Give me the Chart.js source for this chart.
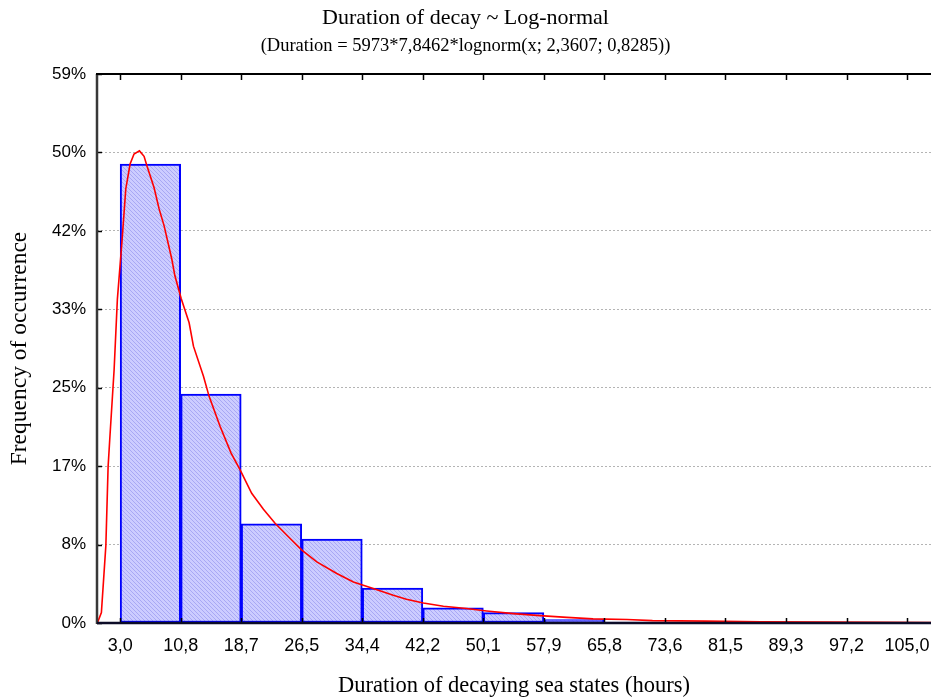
<!DOCTYPE html>
<html>
<head>
<meta charset="utf-8">
<script src="https://cdn.jsdelivr.net/npm/chart.js@4/dist/chart.umd.min.js"></script>
<style>
html,body{margin:0;padding:0;background:#fff;}
canvas{display:block;}
</style>
</head>
<body>
<canvas id="c" width="931" height="698"></canvas>
<script>
// ---- data ----
const totalN = 5973;
const binEdges = [3.0, 10.846, 18.692, 26.538, 34.385, 42.231, 50.077, 57.923, 65.769, 73.615, 81.462, 89.308, 97.154, 105.0];
const tickLabels = ['3,0','10,8','18,7','26,5','34,4','42,2','50,1','57,9','65,8','73,6','81,5','89,3','97,2','105,0'];
const binCounts = [2925, 1460, 633, 535, 222, 96, 66, 22, 6, 3, 1, 1, 1];
const curveX = [0.05, 0.57, 1.15, 1.44, 1.65, 2.22, 2.64, 3.26, 3.73, 4.29, 4.80, 5.50, 6.10, 6.50, 7.40, 8.05, 8.70, 9.70, 10.09, 10.9, 11.94, 12.50, 13.80, 14.53, 15.96, 17.38, 18.55, 20.05, 21.57, 23.08, 24.81, 26.55, 28.49, 31.08, 33.23, 35.8, 38.4, 40.1, 42.3, 44.9, 47.9, 50.5, 54.0, 57.4, 60.9, 64.3, 68.7, 72.0, 79.0, 86.0, 95.0, 102.4, 108.1];
const curveY = [0, 66, 495, 997, 1168, 1616, 2063, 2447, 2767, 2926, 2990, 3010, 2975, 2910, 2775, 2640, 2532, 2319, 2215, 2070, 1914, 1765, 1573, 1445, 1253, 1083, 976, 827, 725, 636, 550, 465, 390, 316, 262, 220, 177, 152, 128, 107, 92, 77, 60, 47, 36, 26, 22, 15, 12, 8, 6, 5, 3];
const yTickStep = 500;
const yMax = 3500;

// ---- build chart data ----
const barData = binCounts.map((c, i) => ({x: (binEdges[i] + binEdges[i + 1]) / 2, y: c}));
const lineData = curveX.map((x, i) => ({x: x, y: curveY[i]}));

// hatch pattern for bars
const pc = document.createElement('canvas');
pc.width = 4; pc.height = 4;
const pctx = pc.getContext('2d');
pctx.fillStyle = '#ccccff';
pctx.fillRect(0, 0, 4, 4);
pctx.fillStyle = '#a8a8f4';
for (let i = 0; i < 4; i++) { pctx.fillRect(i, i, 1, 1); }
const hatch = pctx.createPattern(pc, 'repeat');

const serif = "'Liberation Serif', 'Times New Roman', serif";
const sans = "'Liberation Sans', Arial, sans-serif";

const framePlugin = {
  id: 'frame',
  afterDraw(chart) {
    const {ctx, chartArea: a, scales: {x, y}} = chart;
    ctx.save();
    ctx.strokeStyle = '#000';
    ctx.lineWidth = 1.5;
    x.ticks.forEach(t => {
      const px = Math.round(x.getPixelForValue(t.value)) + 0.5;
      ctx.beginPath(); ctx.moveTo(px, a.top); ctx.lineTo(px, a.top + 6); ctx.stroke();
      ctx.beginPath(); ctx.moveTo(px, a.bottom); ctx.lineTo(px, a.bottom - 5); ctx.stroke();
    });
    y.ticks.forEach(t => {
      const py = Math.round(y.getPixelForValue(t.value)) + 0.5;
      ctx.beginPath(); ctx.moveTo(a.left, py); ctx.lineTo(a.left + 5, py); ctx.stroke();
    });
    ctx.lineWidth = 2.5;
    ctx.strokeStyle = '#383838';
    ctx.beginPath(); ctx.moveTo(a.left, a.top); ctx.lineTo(a.left, a.bottom + 1); ctx.stroke();
    ctx.strokeStyle = '#0c0c28';
    ctx.beginPath(); ctx.moveTo(a.left, a.bottom); ctx.lineTo(a.right, a.bottom); ctx.stroke();
    ctx.lineWidth = 2;
    ctx.strokeStyle = '#000';
    ctx.beginPath(); ctx.moveTo(a.left - 1, a.top); ctx.lineTo(a.right, a.top); ctx.stroke();
    ctx.restore();
  }
};

new Chart(document.getElementById('c'), {
  type: 'bar',
  data: {
    datasets: [
      {
        type: 'line',
        data: lineData,
        borderColor: '#ff0000',
        borderWidth: 1.6,
        pointRadius: 0,
        tension: 0,
        fill: false,
        order: 0
      },
      {
        type: 'bar',
        data: barData,
        backgroundColor: hatch,
        borderColor: '#0000ff',
        borderWidth: 2,
        borderSkipped: false,
        barPercentage: 1.0,
        categoryPercentage: 1.0,
        order: 1
      }
    ]
  },
  options: {
    responsive: false,
    animation: false,
    devicePixelRatio: 1,
    layout: {padding: 0},
    plugins: {
      legend: {display: false},
      tooltip: {enabled: false},
      title: {
        display: true,
        text: 'Duration of decay ~ Log-normal',
        color: '#000',
        font: {family: serif, size: 22, weight: 'normal'},
        padding: {top: 4.8, bottom: 4}
      },
      subtitle: {
        display: true,
        text: '(Duration = 5973*7,8462*lognorm(x; 2,3607; 0,8285))',
        color: '#000',
        font: {family: serif, size: 18.5, weight: 'normal'},
        padding: {top: 0, bottom: 16.6}
      }
    },
    scales: {
      x: {
        type: 'linear',
        offset: false,
        min: 0,
        max: 108.1,
        afterBuildTicks: s => { s.ticks = binEdges.map(v => ({value: v})); },
        afterFit: s => { s.height = 75; s.paddingLeft = 0; s.paddingRight = 0; },
        ticks: {
          autoSkip: false,
          maxRotation: 0,
          color: '#000',
          font: {family: sans, size: 18},
          padding: 12,
          callback: (v, i) => tickLabels[i]
        },
        grid: {display: false, drawTicks: false, offset: false},
        border: {display: false},
        title: {
          display: true,
          text: 'Duration of decaying sea states (hours)',
          color: '#000',
          font: {family: serif, size: 22.5, weight: 'normal', lineHeight: 1.1},
          padding: {top: 0, bottom: 0}
        }
      },
      y: {
        min: 0,
        max: yMax,
        afterFit: s => { s.width = 97; },
        ticks: {
          stepSize: yTickStep,
          color: '#000',
          font: {family: sans, size: 17},
          padding: 11,
          callback: v => Math.round(v / totalN * 100) + '%'
        },
        grid: {
          drawTicks: false,
          lineWidth: 1,
          color: c => (c.tick && (c.tick.value === 0 || c.tick.value === yMax)) ? 'rgba(0,0,0,0)' : '#b4b4b4'
        },
        border: {display: false, dash: [2, 2]},
        title: {
          display: true,
          text: 'Frequency of occurrence',
          color: '#000',
          font: {family: serif, size: 23.5, weight: 'normal'},
          padding: {top: 6, bottom: 0}
        }
      }
    }
  },
  plugins: [framePlugin]
});
</script>
</body>
</html>
